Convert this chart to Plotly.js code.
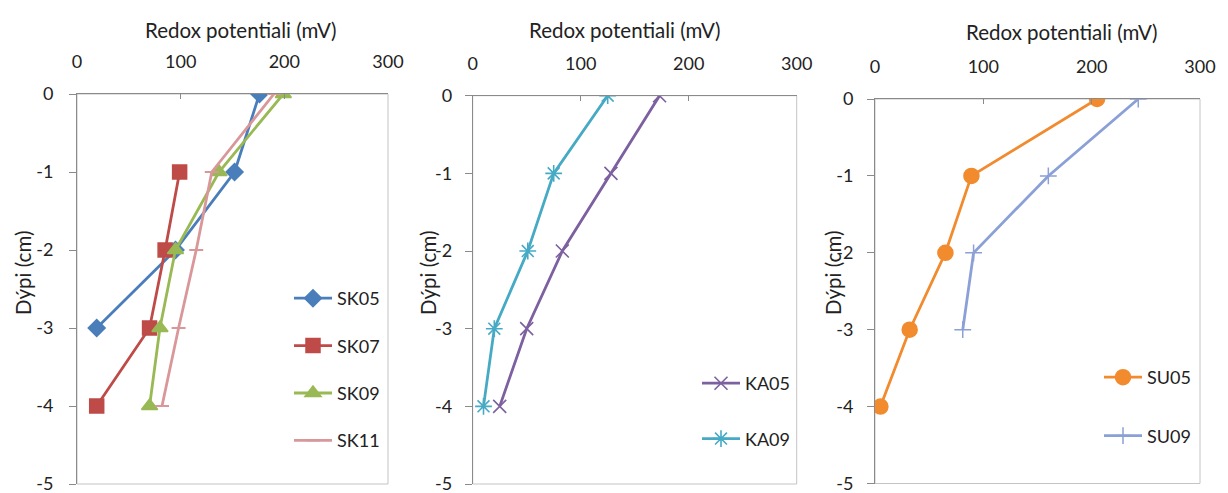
<!DOCTYPE html>
<html><head><meta charset="utf-8">
<script src="https://cdn.plot.ly/plotly-3.0.1.min.js"></script>
<style>html,body{margin:0;padding:0;background:#fff;}#chart{width:1228px;height:493px;}</style>
</head><body><div id="chart"></div>
<script>
const depth = [0, -1, -2, -3, -4];
const SK05 = [176, 152, 95, 19];
const SK07depth = [-1, -2, -3, -4];
const SK07 = [99, 85, 70, 19];
const SK09 = [199, 137, 95, 80, 70];
const SK11 = [190, 130, 115, 98, 82];
const KA05 = [173, 128, 83, 50, 25];
const KA09 = [125, 75, 51, 20, 10];
const SU05 = [205, 89, 65, 32, 5];
const SU09 = [243, 160, 91, 81];
const xTicks = [0, 100, 200, 300];
const xTickText = ['0', '100', '200', '300'];
const yTicks = [0, -1, -2, -3, -4, -5];
const yTickText = ['0', '-1', '-2', '-3', '-4', '-5'];
const xTitle = 'Redox potentiali (mV)';
const yTitle = 'Dýpi (cm)';

const FONT = 'Lato, "Open Sans", sans-serif';
const W = 1228, H = 493;
const panels = [
  {x0: 77, x1: 388, y0: 94, y1: 484, ys: 12},
  {x0: 472.7, x1: 796.7, y0: 95.7, y1: 484, ys: 9},
  {x0: 875, x1: 1200, y0: 99, y1: 483.5, ys: 10}
];

function tr(x, y, name, color, symbol, size, k, legend, lw) {
  return {
    x: x, y: y, name: name, type: 'scatter', mode: 'lines+markers',
    xaxis: k === 1 ? 'x' : 'x' + k, yaxis: k === 1 ? 'y' : 'y' + k,
    line: {color: color, width: 2.8},
    marker: {symbol: symbol, size: size, color: color, line: {color: color, width: lw || 1.5}},
    legend: legend, legendgroup: name
  };
}
const traces = [
  tr(SK05, depth.slice(0, 4), 'SK05', '#4A7EBB', 'diamond', 13, 1, 'legend'),
  tr(SK07, SK07depth, 'SK07', '#BE4B48', 'square', 14, 1, 'legend'),
  tr(SK09, depth, 'SK09', '#98B954', 'triangle-up', 14, 1, 'legend'),
  tr(SK11, depth, 'SK11', '#D9979A', 'line-ew-open', 10, 1, 'legend', 2),
  tr(KA05, depth, 'KA05', '#7D60A0', 'x-thin-open', 13, 2, 'legend2', 1.6),
  tr(KA09, depth, 'KA09', '#46AAC5', 'asterisk-open', 14, 2, 'legend2', 1.6),
  tr(SU05, depth, 'SU05', '#F18B2E', 'circle', 15, 3, 'legend3'),
  tr(SU09, depth.slice(0, 4), 'SU09', '#8AA0D6', 'cross-thin-open', 12, 3, 'legend3', 1.5)
];

const layout = {
  width: W, height: H, margin: {l: 0, r: 0, t: 0, b: 0},
  paper_bgcolor: '#fff', plot_bgcolor: '#fff',
  font: {family: FONT, size: 18, color: '#222'},
  showlegend: true, annotations: [], shapes: []
};
panels.forEach((p, i) => {
  const k = i + 1, s = k === 1 ? '' : String(k);
  layout['xaxis' + s] = {
    domain: [p.x0 / W, p.x1 / W], range: [0, 300], side: 'top',
    anchor: 'y' + s, tickvals: xTicks, ticktext: xTickText, ticks: 'inside', ticklen: 5, tickcolor: '#8a8a8a',
    showline: true, linecolor: '#8a8a8a', linewidth: 1, showgrid: false, zeroline: false,
    ticklabelstandoff: 18, ticklabeloverflow: 'allow', tickfont: {size: 18, family: FONT, color: '#222'}, fixedrange: true
  };
  layout['yaxis' + s] = {
    domain: [1 - p.y1 / H, 1 - p.y0 / H], range: [-5, 0],
    anchor: 'x' + s, tickvals: yTicks, ticktext: yTickText, ticks: 'outside', ticklen: 7, tickcolor: '#8a8a8a',
    showline: true, linecolor: '#8a8a8a', linewidth: 1, showgrid: false, zeroline: false,
    ticklabelstandoff: p.ys, ticklabeloverflow: 'allow', tickfont: {size: 18, family: FONT, color: '#222'}, fixedrange: true
  };
  layout.shapes.push({type: 'rect', xref: 'x' + s + ' domain', yref: 'y' + s + ' domain',
    x0: 0, x1: 1, y0: 0, y1: 1, line: {color: '#c4c4c4', width: 1}, layer: 'below'});
});
[[241, 30], [625, 30], [1062, 32]].forEach(c => layout.annotations.push({
  text: xTitle, xref: 'paper', yref: 'paper', x: c[0] / W, y: 1 - c[1] / H,
  xanchor: 'center', yanchor: 'middle', showarrow: false, font: {size: 20.5, family: FONT, color: '#222'}
}));
[[23, 273], [428, 273], [833, 273]].forEach(c => layout.annotations.push({
  text: yTitle, xref: 'paper', yref: 'paper', x: c[0] / W, y: 1 - c[1] / H, textangle: -90,
  xanchor: 'center', yanchor: 'middle', showarrow: false, font: {size: 20.5, family: FONT, color: '#222'}
}));
const legBase = {bgcolor: 'rgba(0,0,0,0)', borderwidth: 0, xanchor: 'left', yanchor: 'top',
  font: {size: 18, family: FONT, color: '#222'}, itemwidth: 38, tracegroupgap: 21};
layout.legend = Object.assign({}, legBase, {x: 289 / W, y: 1 - 280 / H});
layout.legend2 = Object.assign({}, legBase, {x: 697 / W, y: 1 - 365 / H, tracegroupgap: 29});
layout.legend3 = Object.assign({}, legBase, {x: 1099 / W, y: 1 - 359 / H, tracegroupgap: 32});

Plotly.newPlot('chart', traces, layout, {displayModeBar: false, staticPlot: true});
</script></body></html>
